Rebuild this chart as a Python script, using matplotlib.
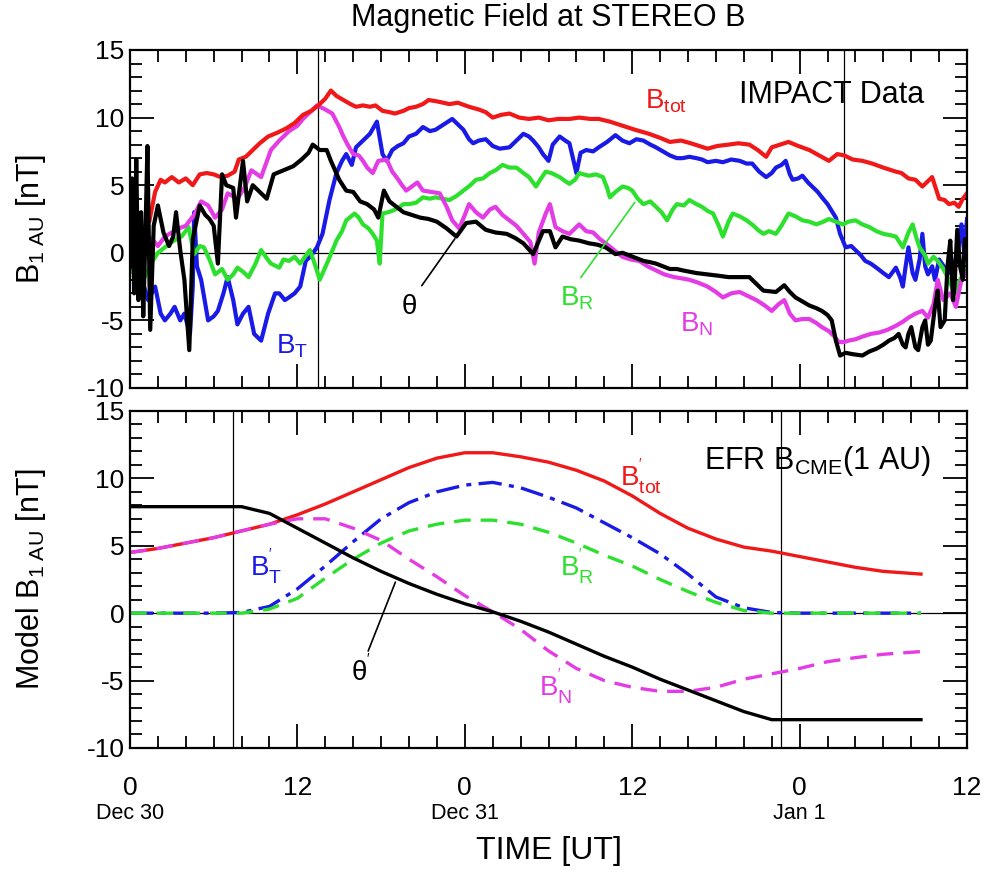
import numpy as np
import matplotlib.pyplot as plt

plt.rcParams['font.family'] = ['Liberation Sans', 'DejaVu Sans']
plt.rcParams['mathtext.fontset'] = 'custom'
plt.rcParams['mathtext.rm'] = 'Liberation Sans'
plt.rcParams['mathtext.it'] = 'Liberation Sans'
plt.rcParams['axes.unicode_minus'] = False

# ---- IMPACT data (hours since Dec 30 00 UT, nT) ----
btot = np.array([
    (1.4, 2.4), (1.8, 4.5), (2.2, 5.4), (2.5, 5.2), (3.0, 5.6), (3.5, 5.2), (4.0, 5.5),
    (4.5, 5.0), (5.0, 5.8), (5.5, 5.9), (6.0, 5.8), (6.5, 5.6), (7.0, 5.7), (7.5, 6.0),
    (7.8, 6.9), (8.3, 7.1), (8.8, 7.6), (9.3, 8.1), (9.9, 8.6), (10.6, 8.9), (11.2, 9.2),
    (11.8, 9.6), (12.4, 10.2), (13.0, 10.5), (13.5, 10.9), (14.0, 11.4), (14.4, 12.0),
    (14.8, 11.6), (15.3, 11.3), (15.8, 11.0), (16.2, 10.8), (16.7, 10.9), (17.2, 10.8),
    (17.6, 10.9), (18.1, 10.5), (18.6, 10.4), (19.0, 10.3), (19.6, 10.5), (20.0, 10.7),
    (20.5, 10.8), (21.0, 11.0), (21.4, 11.3), (22.0, 11.2), (22.9, 11.0), (23.5, 11.1),
    (24.3, 10.8), (25.0, 10.6), (25.5, 10.4), (26.0, 10.0), (26.6, 10.2), (27.2, 10.3),
    (27.9, 10.0), (28.6, 9.9), (29.3, 10.0), (30.0, 9.8), (30.7, 9.9), (31.5, 9.9),
    (32.2, 10.0), (33.0, 9.9), (33.6, 9.9), (34.4, 9.7), (35.3, 9.4), (36.2, 9.1),
    (37.2, 8.8), (38.0, 8.5), (38.7, 8.2), (39.5, 8.3), (40.2, 8.1), (40.8, 7.9),
    (41.4, 7.7), (42.1, 7.9), (42.9, 8.0), (43.6, 8.1), (44.4, 8.0), (45.0, 7.6),
    (45.6, 7.1), (46.0, 7.8), (46.6, 8.0), (47.2, 8.2), (47.9, 7.9), (48.7, 7.6),
    (49.4, 7.2), (50.1, 6.8), (50.7, 7.3), (51.2, 7.2), (51.8, 6.9), (52.5, 6.8),
    (53.2, 6.6), (54.0, 6.3), (54.9, 6.0), (55.3, 5.9), (55.8, 5.5), (56.3, 5.4),
    (56.8, 4.9), (57.2, 5.3), (57.5, 5.6), (58.0, 4.0), (58.4, 3.9), (58.7, 3.6),
    (59.1, 3.7), (59.4, 3.4), (59.7, 4.0), (60.0, 4.4)])

theta = np.array([
    (0.0, -1.0), (0.15, 5.5), (0.3, -3.0), (0.45, 6.9), (0.6, -3.5), (0.8, 3.0),
    (0.95, -4.7), (1.1, 1.0), (1.25, 7.9), (1.45, -5.7), (1.7, 2.0), (2.0, 3.5),
    (2.4, 1.5), (2.8, 0.5), (3.1, 1.2), (3.3, 3.0), (3.6, 0.2), (3.9, -2.0),
    (4.25, -7.2), (4.5, 1.0), (5.0, 3.5), (5.4, 2.8), (5.7, 2.5), (6.0, 2.0),
    (6.3, -0.8), (6.6, 5.8), (6.9, 5.0), (7.4, 4.8), (7.6, 2.6), (8.1, 6.8),
    (8.4, 3.8), (8.8, 5.0), (9.3, 4.5), (9.8, 4.0), (10.3, 5.8), (11.0, 6.1),
    (11.7, 6.4), (12.3, 6.9), (12.8, 7.4), (13.1, 8.0), (13.6, 7.6), (14.1, 7.6),
    (14.4, 6.8), (15.0, 5.4), (15.5, 4.6), (16.0, 4.5), (16.5, 3.8), (17.0, 3.6),
    (17.5, 3.2), (17.8, 2.6), (18.2, 4.6), (18.6, 3.8), (19.1, 3.4), (19.6, 3.0),
    (20.2, 2.8), (20.8, 2.6), (21.4, 2.5), (22.0, 2.3), (22.7, 1.8), (23.4, 1.2),
    (24.1, 2.2), (24.8, 2.3), (25.5, 1.7), (26.2, 1.5), (27.0, 1.4), (27.6, 1.1),
    (28.2, 0.7), (28.9, -0.1), (29.6, 1.6), (30.1, 1.6), (30.5, 0.4), (31.0, 1.2),
    (31.6, 1.0), (32.2, 0.9), (32.9, 0.7), (33.5, 0.6), (34.1, 0.4), (34.8, -0.1),
    (35.3, 0.0), (35.8, -0.2), (36.3, -0.4), (36.8, -0.6), (37.3, -0.7), (37.7, -0.8),
    (38.2, -1.0), (38.7, -1.2), (39.2, -1.2), (39.6, -1.3), (40.1, -1.4), (40.6, -1.5),
    (41.4, -1.6), (42.2, -1.7), (42.9, -1.8), (43.6, -1.8), (44.4, -1.8), (44.9, -2.3),
    (45.4, -2.8), (46.3, -2.9), (46.9, -2.4), (47.3, -2.9), (47.7, -3.3), (48.2, -3.6),
    (48.7, -3.9), (49.2, -4.1), (49.6, -4.3), (50.0, -4.6), (50.3, -5.0), (50.6, -6.5),
    (50.9, -7.6), (51.3, -7.4), (51.8, -7.5), (52.5, -7.6), (53.0, -7.3), (53.5, -7.1),
    (54.0, -6.8), (54.4, -6.5), (54.8, -6.3), (55.1, -6.0), (55.4, -6.8), (55.6, -7.0),
    (55.8, -6.0), (56.0, -5.5), (56.3, -7.0), (56.5, -7.2), (56.8, -5.5), (57.0, -5.0),
    (57.2, -6.8), (57.4, -6.5), (57.7, -4.0), (57.9, -2.8), (58.1, -5.5), (58.4, -5.0),
    (58.6, -1.0), (58.8, 0.9), (59.0, -3.5), (59.1, -2.5), (59.3, 1.7), (59.5, -1.0),
    (59.7, -2.0), (59.85, 1.0), (60.0, 0.0)])

bn = np.array([
    (0.0, -0.5), (0.4, -1.5), (0.8, 0.5), (1.2, 1.2), (1.6, 1.0), (2.0, 0.5), (2.5, 1.2),
    (3.0, 1.5), (3.5, 1.8), (4.0, 2.0), (4.6, 2.8), (5.1, 3.8), (5.6, 3.5), (6.1, 2.6),
    (6.6, 3.2), (7.0, 4.4), (7.7, 4.0), (8.2, 4.8), (8.7, 6.1), (9.4, 5.6), (10.1, 7.6),
    (10.7, 8.3), (11.4, 9.0), (12.0, 9.4), (12.4, 9.9), (13.0, 10.5), (13.4, 10.9),
    (14.0, 10.6), (14.5, 10.3), (15.0, 9.3), (15.3, 8.6), (15.6, 8.0), (16.0, 7.3),
    (16.4, 7.2), (16.7, 6.8), (17.0, 6.3), (17.4, 5.9), (17.8, 6.8), (18.4, 6.9),
    (18.8, 6.0), (19.1, 5.6), (19.5, 5.0), (19.8, 4.6), (20.2, 4.9), (20.6, 5.2),
    (21.0, 4.6), (21.6, 4.5), (22.2, 4.4), (22.7, 3.4), (23.1, 2.4), (23.6, 1.8),
    (24.0, 2.8), (24.3, 3.6), (24.8, 3.0), (25.3, 2.6), (25.8, 3.2), (26.2, 3.4),
    (26.7, 2.8), (27.2, 2.4), (27.7, 2.0), (28.2, 1.4), (28.7, 0.8), (29.0, -0.8),
    (29.3, 1.5), (29.8, 2.9), (30.1, 3.6), (30.5, 1.9), (31.0, 1.6), (31.5, 1.4),
    (32.2, 2.1), (32.7, 1.6), (33.2, 1.5), (33.7, 1.0), (34.1, 0.7), (34.7, 0.2),
    (35.3, -0.3), (35.9, -0.5), (36.5, -0.6), (37.1, -1.0), (37.7, -1.3), (38.3, -1.6),
    (39.0, -1.8), (39.6, -1.9), (40.1, -2.0), (40.7, -2.2), (41.4, -2.5), (42.0, -2.9),
    (42.5, -3.3), (43.1, -3.0), (43.7, -2.9), (44.3, -3.2), (44.9, -3.5), (45.5, -3.9),
    (46.0, -4.3), (46.5, -3.8), (46.9, -3.5), (47.3, -4.5), (47.7, -5.0), (48.2, -4.9),
    (48.7, -4.9), (49.2, -5.2), (49.6, -5.5), (50.1, -5.8), (50.5, -6.2), (50.8, -6.6),
    (51.2, -6.6), (51.5, -6.5), (52.0, -6.4), (52.5, -6.2), (53.1, -6.0), (53.7, -5.9),
    (54.3, -5.7), (54.9, -5.4), (55.4, -5.1), (55.8, -4.8), (56.3, -4.5), (56.8, -4.3),
    (57.2, -4.8), (57.6, -3.8), (57.9, -2.0), (58.3, -3.5), (58.8, -3.0), (59.2, -4.0),
    (59.6, -2.0), (60.0, -1.5)])

bt = np.array([
    (0.0, -0.5), (0.3, -1.0), (0.8, -1.8), (1.3, -3.5), (1.8, -2.5), (2.2, -4.5),
    (2.5, -5.0), (2.9, -4.5), (3.2, -4.0), (3.6, -5.0), (3.9, -4.5), (4.3, -6.0),
    (4.5, -2.5), (4.6, 3.0), (4.8, -1.0), (5.1, -2.0), (5.6, -5.0), (6.0, -4.7),
    (6.3, -4.3), (6.7, -3.0), (7.0, -1.8), (7.4, -3.5), (7.7, -5.3), (8.1, -4.5),
    (8.5, -4.0), (8.9, -6.0), (9.4, -6.5), (9.9, -4.5), (10.4, -3.0), (10.7, -3.0),
    (11.1, -3.5), (11.4, -3.3), (11.8, -3.0), (12.2, -2.5), (12.6, -0.6), (13.0, -0.2),
    (13.4, 0.4), (13.8, 1.4), (14.3, 3.9), (14.8, 5.9), (15.2, 6.8), (15.5, 7.3),
    (15.9, 6.5), (16.2, 7.8), (16.7, 8.3), (17.2, 8.8), (17.7, 9.7), (18.1, 7.3),
    (18.4, 6.8), (18.8, 7.6), (19.2, 7.9), (19.6, 8.1), (20.0, 8.6), (20.5, 8.8),
    (21.0, 9.3), (21.5, 9.0), (21.9, 9.1), (22.5, 9.5), (23.1, 9.9), (23.5, 9.5),
    (23.9, 9.1), (24.3, 8.4), (24.6, 8.1), (25.0, 8.3), (25.5, 8.4), (26.0, 7.9),
    (26.5, 7.7), (27.2, 7.8), (27.7, 8.3), (28.2, 8.8), (28.6, 8.6), (28.9, 8.3),
    (29.3, 7.8), (29.6, 7.3), (30.0, 6.8), (30.3, 8.0), (30.8, 8.6), (31.2, 8.3),
    (31.5, 8.1), (32.0, 5.9), (32.3, 7.4), (32.7, 7.6), (33.2, 7.5), (33.6, 7.8),
    (34.2, 8.2), (34.8, 8.7), (35.3, 8.3), (35.8, 8.1), (36.3, 8.4), (36.8, 8.3),
    (37.3, 8.0), (37.7, 7.8), (38.2, 7.5), (38.7, 7.2), (39.2, 7.0), (39.6, 7.0),
    (40.1, 7.1), (40.6, 7.0), (41.0, 6.9), (41.4, 6.7), (42.0, 6.8), (42.5, 6.7),
    (43.1, 6.9), (43.7, 6.8), (44.2, 6.6), (44.6, 6.6), (45.1, 6.0), (45.6, 5.6),
    (46.0, 5.9), (46.3, 6.3), (46.7, 6.5), (47.0, 6.8), (47.3, 5.8), (47.5, 5.4),
    (47.9, 5.5), (48.2, 5.7), (48.6, 5.2), (48.9, 4.9), (49.3, 4.5), (49.6, 4.1),
    (50.0, 3.6), (50.3, 3.1), (50.6, 2.6), (50.9, 1.4), (51.3, 0.4), (51.7, 0.5),
    (52.0, 0.2), (52.4, -0.2), (52.7, -0.6), (53.1, -0.8), (53.5, -1.1), (54.0, -1.5),
    (54.4, -1.8), (54.9, -1.1), (55.2, -1.8), (55.4, -2.5), (55.6, -1.0), (55.8, 0.4),
    (56.1, -1.5), (56.3, -2.0), (56.6, -0.5), (56.8, 1.4), (57.0, -1.0), (57.2, -1.6),
    (57.5, -1.0), (57.7, -2.0), (58.0, -0.5), (58.4, -1.1), (58.8, -1.5), (59.1, -0.8),
    (59.4, 0.5), (59.6, 2.1), (59.8, 0.0), (60.0, 2.5)])

br = np.array([
    (0.0, -1.0), (0.4, -1.8), (0.8, -2.3), (1.2, -1.5), (1.5, -0.8), (2.0, 0.0),
    (2.5, 0.4), (3.0, 0.8), (3.7, 1.2), (4.2, 1.9), (4.6, -0.1), (5.0, 0.5), (5.3, 0.4),
    (5.7, -0.5), (6.1, -1.6), (6.6, -1.2), (7.0, -2.0), (7.4, -1.6), (7.7, -1.1),
    (8.1, -1.4), (8.5, -1.8), (9.0, -0.8), (9.4, 0.2), (9.8, -0.4), (10.1, -0.8),
    (10.7, -1.1), (11.0, -0.5), (11.4, -0.6), (11.8, -0.3), (12.2, -0.8), (12.6, -0.2),
    (12.9, 0.2), (13.3, -1.0), (13.6, -2.0), (14.2, -0.6), (14.8, 0.9), (15.2, 1.6),
    (15.5, 2.4), (16.1, 2.9), (16.4, 2.6), (16.7, 2.1), (17.1, 1.8), (17.4, 1.4),
    (17.7, 0.9), (17.9, -0.8), (18.1, 2.9), (18.5, 3.0), (18.8, 3.1), (19.2, 3.3),
    (19.6, 3.6), (20.0, 3.6), (20.5, 3.7), (21.0, 4.1), (21.5, 4.0), (21.9, 4.1),
    (22.4, 4.0), (22.9, 3.9), (23.4, 4.2), (23.9, 4.6), (24.4, 5.0), (24.8, 5.4),
    (25.3, 5.5), (25.8, 5.9), (26.2, 6.1), (26.7, 6.5), (27.2, 6.3), (27.7, 6.3),
    (28.2, 5.9), (28.6, 5.6), (29.1, 4.9), (29.4, 5.4), (29.8, 6.0), (30.2, 5.9),
    (30.8, 5.6), (31.2, 5.3), (31.5, 5.1), (31.9, 5.4), (32.2, 5.9), (32.5, 5.8),
    (32.9, 5.7), (33.4, 5.8), (33.9, 5.6), (34.2, 4.8), (34.4, 4.1), (34.8, 4.5),
    (35.3, 4.9), (35.7, 4.8), (36.0, 4.6), (36.4, 4.0), (36.8, 3.6), (37.3, 3.8),
    (37.7, 3.4), (38.1, 3.0), (38.5, 2.4), (38.9, 3.2), (39.2, 3.6), (39.7, 3.5),
    (40.1, 3.9), (40.6, 3.6), (41.0, 3.4), (41.4, 3.1), (41.8, 2.9), (42.2, 2.0),
    (42.5, 1.2), (42.9, 2.3), (43.2, 2.9), (43.7, 2.7), (44.2, 2.4), (44.7, 2.0),
    (45.0, 1.7), (45.4, 1.4), (45.8, 1.6), (46.3, 1.4), (46.7, 2.0), (47.2, 2.9),
    (47.7, 2.7), (48.2, 2.4), (48.7, 2.3), (49.2, 2.1), (49.7, 2.3), (50.1, 2.5),
    (50.6, 2.3), (51.1, 2.1), (51.5, 2.3), (52.0, 2.4), (52.5, 2.1), (53.0, 1.9),
    (53.5, 1.6), (54.0, 1.4), (54.5, 1.3), (54.9, 1.2), (55.4, 0.4), (55.8, 1.5),
    (56.1, 2.1), (56.4, 1.0), (56.6, 0.4), (57.0, -0.2), (57.2, -0.8), (57.6, -0.3),
    (57.9, -0.6), (58.3, -1.2), (58.7, -2.0), (59.1, -3.0), (59.4, -2.2), (59.6, -1.8),
    (60.0, -1.2)])

# ---- EFR model (bottom panel) ----
model_t = [0, 2, 4, 6, 8, 10, 12, 14, 16, 18, 20, 22, 24, 26, 28, 30, 32, 34, 36,
           38, 40, 42, 44, 46, 48, 50, 52, 54, 56, 56.7]
model_btot = [4.5, 4.8, 5.2, 5.6, 6.1, 6.6, 7.3, 8.1, 9.0, 9.9, 10.8, 11.5, 11.9,
              11.9, 11.6, 11.2, 10.6, 9.8, 8.7, 7.4, 6.3, 5.5, 4.9, 4.6, 4.2, 3.8,
              3.4, 3.1, 2.95, 2.9]
model_bn = [4.5, 4.8, 5.2, 5.6, 6.1, 6.6, 7.0, 7.0, 6.3, 5.4, 4.0, 2.7, 1.3, 0.1,
            -1.2, -2.8, -4.1, -5.0, -5.5, -5.8, -5.8, -5.5, -4.9, -4.5, -4.1, -3.6,
            -3.3, -3.05, -2.9, -2.85]
model_bt = [0, 0, 0, 0, 0.05, 0.5, 1.8, 3.5, 5.3, 7.0, 8.2, 9.0, 9.5, 9.7, 9.3,
            8.6, 7.8, 6.7, 5.6, 4.4, 2.9, 1.2, 0.4, 0.05, 0, 0, 0, 0, 0, 0]
model_br = [0, 0, 0, 0, 0.0, 0.3, 1.1, 2.6, 4.0, 5.2, 6.1, 6.6, 6.9, 6.9, 6.6,
            6.0, 5.2, 4.3, 3.5, 2.5, 1.6, 0.8, 0.2, 0, 0, 0, 0, 0, 0, 0]
model_theta = [7.9, 7.9, 7.9, 7.9, 7.9, 7.4, 6.3, 5.2, 4.1, 3.1, 2.2, 1.4, 0.7, 0.1,
               -0.6, -1.4, -2.3, -3.2, -4.0, -4.9, -5.7, -6.5, -7.3, -7.9, -7.9,
               -7.9, -7.9, -7.9, -7.9, -7.9]

data_bounds = [13.5, 51.2]
model_bounds = [7.4, 46.7]
day_labels = ['Dec 30', 'Dec 31', 'Jan 1']
day_hours = [0, 24, 48]

RED = '#f01818'
BLUE = '#1a1ae6'
GREEN = '#2ee02e'
MAGENTA = '#e43ce4'


def style_axes(ax):
    ax.set_xlim(0, 60)
    ax.set_ylim(-10, 15)
    ax.set_xticks(np.arange(0, 61, 12))
    ax.set_xticks(np.arange(0, 61, 2), minor=True)
    ax.set_yticks([-10, -5, 0, 5, 10, 15])
    ax.set_yticks(np.arange(-10, 16, 1), minor=True)
    ax.tick_params(which='both', direction='in', top=True, right=True, width=1.3)
    ax.tick_params(which='major', length=17)
    ax.tick_params(which='minor', length=8.5)
    ax.tick_params(axis='y', labelsize=19, pad=4)
    ax.tick_params(axis='x', labelsize=19, pad=20)
    for s in ax.spines.values():
        s.set_linewidth(1.6)
    ax.axhline(0, color='k', lw=0.9, zorder=1)


fig = plt.figure(figsize=(9.9, 8.74), dpi=100)
ax1 = fig.add_axes([0.1313, 0.5561, 0.8455, 0.3867])
ax2 = fig.add_axes([0.1313, 0.1442, 0.8455, 0.3856])

# top panel: measurements
style_axes(ax1)
for xv in data_bounds:
    ax1.axvline(xv, color='k', lw=0.9, zorder=1)
ax1.plot(bt[:, 0], bt[:, 1], color=BLUE, lw=3)
ax1.plot(br[:, 0], br[:, 1], color=GREEN, lw=3)
ax1.plot(bn[:, 0], bn[:, 1], color=MAGENTA, lw=3)
ax1.plot(btot[:, 0], btot[:, 1], color=RED, lw=3)
ax1.plot(theta[:, 0], theta[:, 1], color='k', lw=3)
ax1.set_xticklabels([])
ax1.set_ylabel(r'$\mathregular{B_{1\ AU}}$ [nT]', fontsize=22)
ax1.yaxis.set_label_coords(-0.098, 0.5)

lab = dict(fontsize=20, va='center')
ax1.text(56.9, 11.7, 'IMPACT Data', ha='right', fontsize=22, va='center')
ax1.text(36.9, 11.2, r'$\mathregular{B_{tot}}$', color=RED, ha='left', **lab)
ax1.text(10.5, -6.9, r'$\mathregular{B_{T}}$', color=BLUE, ha='left', **lab)
ax1.text(30.8, -3.4, r'$\mathregular{B_{R}}$', color=GREEN, ha='left', **lab)
ax1.text(39.4, -5.3, r'$\mathregular{B_{N}}$', color=MAGENTA, ha='left', **lab)
ax1.text(20.0, -4.0, '\u03b8', color='k', ha='center', **lab)
ax1.annotate('', xy=(23.4, 1.2), xytext=(20.8, -2.6),
             arrowprops=dict(arrowstyle='-', color='k', lw=1.2))
ax1.annotate('', xy=(36.3, 3.9), xytext=(32.2, -2.0),
             arrowprops=dict(arrowstyle='-', color=GREEN, lw=1.2))

# bottom panel: EFR model
style_axes(ax2)
for xv in model_bounds:
    ax2.axvline(xv, color='k', lw=0.9, zorder=1)
ax2.plot(model_t, model_btot, color=RED, lw=2.4)
ax2.plot(model_t, model_bt, color=BLUE, lw=2.4, dashes=[7, 2.2, 1.5, 2.2])
ax2.plot(model_t, model_br, color=GREEN, lw=2.4, dashes=[5, 3])
ax2.plot(model_t, model_bn, color=MAGENTA, lw=2.4, dashes=[5, 3])
ax2.plot(model_t, model_theta, color='k', lw=2.4)
ax2.set_xticklabels(['0', '12', '0', '12', '0', '12'])
ax2.set_ylabel(r'Model $\mathregular{B_{1\ AU}}$ [nT]', fontsize=22)
ax2.yaxis.set_label_coords(-0.098, 0.5)
ax2.set_xlabel('TIME [UT]', fontsize=23, va='center')
ax2.xaxis.set_label_coords(0.5, -0.305)
for h, d in zip(day_hours, day_labels):
    ax2.text(h, -0.195, d, transform=ax2.get_xaxis_transform(), ha='center',
             va='center', fontsize=15.5)

ax2.text(57.4, 11.3, r'EFR B$\mathregular{_{CME}}$(1 AU)', ha='right', fontsize=22,
         va='center')
ax2.text(35.1, 10.1, r"$\mathregular{B^{'}_{tot}}$", color=RED, ha='left', **lab)
ax2.text(8.6, 3.4, r"$\mathregular{B^{'}_{T}}$", color=BLUE, ha='left', **lab)
ax2.text(30.8, 3.4, r"$\mathregular{B^{'}_{R}}$", color=GREEN, ha='left', **lab)
ax2.text(29.3, -5.5, r"$\mathregular{B^{'}_{N}}$", color=MAGENTA, ha='left', **lab)
ax2.text(16.6, -4.3, "\u03b8$\\mathregular{^{'}}$", color='k', ha='center', **lab)
ax2.annotate('', xy=(19.1, 2.5), xytext=(17.0, -3.0),
             arrowprops=dict(arrowstyle='-', color='k', lw=1.2))

fig.text(0.554, 0.979, 'Magnetic Field at STEREO B', ha='center', va='center',
         fontsize=22)

fig.savefig('out.png', dpi=100)
